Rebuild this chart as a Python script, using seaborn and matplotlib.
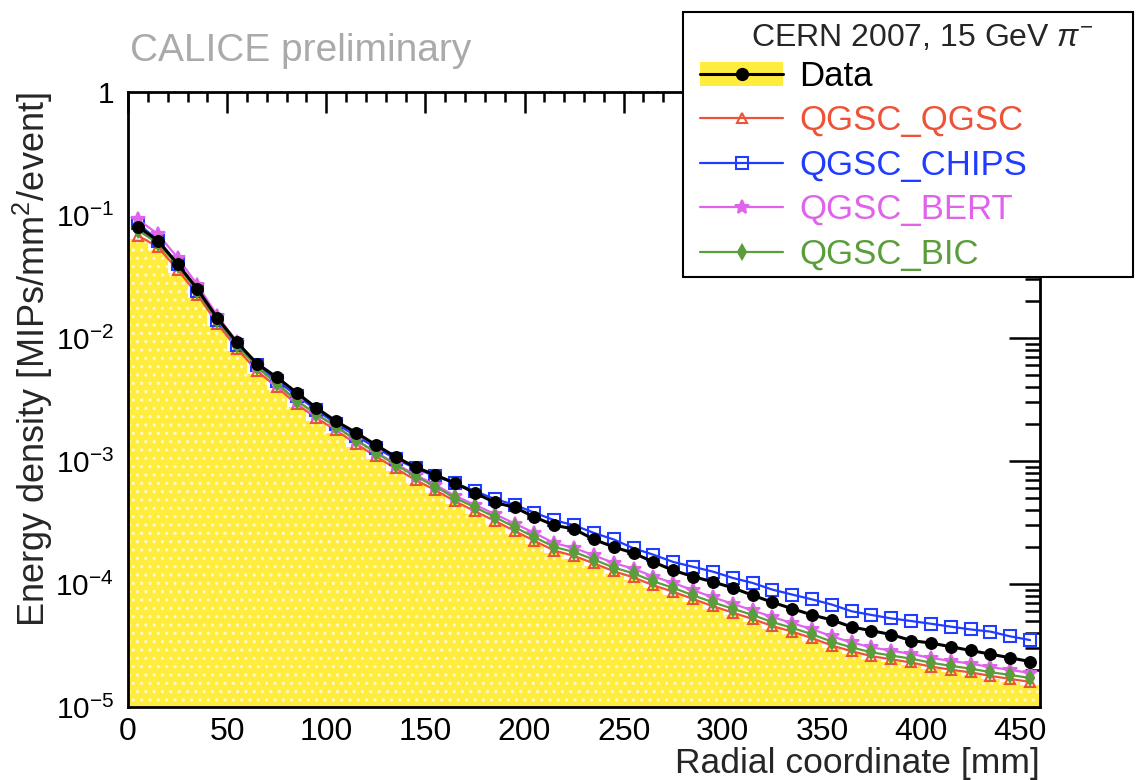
import numpy as np
import matplotlib
matplotlib.use("Agg")
import matplotlib.pyplot as plt
from matplotlib.lines import Line2D
from matplotlib.patches import Patch, Rectangle
from matplotlib.ticker import FixedLocator, FixedFormatter, LogLocator, MultipleLocator, NullFormatter
import seaborn as sns

# Radial bins of 10 mm, values at bin centres
bin_edges = list(range(0, 470, 10))
radius = [5 + 10 * i for i in range(46)]

data = [0.080, 0.062, 0.040, 0.025, 0.0145, 0.0092, 0.0062, 0.0048, 0.0036, 0.0027,
        0.0021, 0.0017, 0.00135, 0.00108, 0.00089, 0.00077, 0.00066, 0.00055, 0.00046, 0.00042,
        0.00035, 0.00030, 0.00028, 0.00023, 0.00020, 0.000178, 0.000151, 0.000129, 0.000115, 0.000104,
        0.000093, 0.000081, 0.000071, 0.000063, 0.000056, 0.000051, 0.0000447, 0.0000417, 0.0000388, 0.0000347,
        0.0000331, 0.0000309, 0.0000288, 0.0000269, 0.0000251, 0.0000234]

data_band = [0.064, 0.052, 0.034, 0.0213, 0.0124, 0.0078, 0.0051, 0.0038, 0.00275, 0.00212,
             0.00168, 0.00131, 0.00103, 0.00083, 0.00066, 0.00055, 0.00045, 0.00037, 0.00031, 0.000256,
             0.000213, 0.000178, 0.00016, 0.00014, 0.000121, 0.000107, 0.0000925, 0.000082, 0.0000717, 0.0000627,
             0.0000556, 0.0000494, 0.0000432, 0.000039, 0.0000345, 0.00003, 0.000027, 0.0000246, 0.0000232, 0.0000218,
             0.0000202, 0.0000191, 0.0000181, 0.000017, 0.0000161, 0.0000152]

qgsc_qgsc = [0.068, 0.055, 0.036, 0.0225, 0.0131, 0.0082, 0.0054, 0.0040, 0.0029, 0.00224,
             0.00177, 0.00138, 0.00109, 0.00087, 0.00070, 0.00058, 0.00047, 0.00039, 0.000326, 0.00027,
             0.000224, 0.000187, 0.000169, 0.000147, 0.000127, 0.000113, 0.0000975, 0.0000865, 0.0000755, 0.000066,
             0.0000585, 0.000052, 0.0000455, 0.000041, 0.0000363, 0.0000316, 0.0000284, 0.0000259, 0.0000244, 0.000023,
             0.0000213, 0.0000201, 0.0000191, 0.0000179, 0.0000169, 0.000016]

qgsc_chips = [0.086, 0.062, 0.040, 0.024, 0.014, 0.0088, 0.0060, 0.0045, 0.0034, 0.0026,
              0.0020, 0.0016, 0.00128, 0.00104, 0.00087, 0.00075, 0.00066, 0.00057, 0.00049, 0.00044,
              0.00038, 0.00033, 0.00030, 0.00026, 0.00023, 0.000195, 0.000173, 0.000151, 0.000138, 0.000126,
              0.000112, 0.000102, 0.000090, 0.000082, 0.000075, 0.000068, 0.000060, 0.000056, 0.0000525, 0.000050,
              0.0000475, 0.000045, 0.0000427, 0.000041, 0.0000375, 0.000035]

qgsc_bert = [0.092, 0.070, 0.045, 0.027, 0.0152, 0.0092, 0.0059, 0.0042, 0.0031, 0.0024,
             0.0019, 0.00148, 0.00118, 0.00095, 0.00077, 0.00064, 0.00052, 0.00044, 0.00037, 0.00031,
             0.00026, 0.000215, 0.000196, 0.000171, 0.000148, 0.000133, 0.000115, 0.000102, 0.000089, 0.000078,
             0.000069, 0.000061, 0.000054, 0.000048, 0.000043, 0.0000375, 0.0000335, 0.0000305, 0.0000287, 0.000027,
             0.000025, 0.0000237, 0.0000225, 0.0000211, 0.00002, 0.0000189]

qgsc_bic = [0.075, 0.059, 0.039, 0.024, 0.0140, 0.0088, 0.0058, 0.0043, 0.0031, 0.0024,
            0.0019, 0.00148, 0.00117, 0.00093, 0.00075, 0.00062, 0.00050, 0.00042, 0.00035, 0.00029,
            0.00024, 0.00020, 0.000182, 0.000158, 0.000136, 0.000122, 0.000105, 0.000093, 0.000081, 0.000071,
            0.000063, 0.000056, 0.000049, 0.000044, 0.000039, 0.000034, 0.0000305, 0.0000278, 0.0000262, 0.0000247,
            0.0000229, 0.0000216, 0.0000205, 0.0000192, 0.0000182, 0.0000172]

models = ["QGSC_QGSC", "QGSC_CHIPS", "QGSC_BERT", "QGSC_BIC"]
model_values = [qgsc_qgsc, qgsc_chips, qgsc_bert, qgsc_bic]
model_colors = ["#ee5238", "#1f3cff", "#e063ec", "#5a9e3c"]
model_markers = ["^", "s", "*", "d"]
model_msize = [6.5, 8, 10, 7]
model_filled = [False, False, True, True]

sns.set_theme(style="white")
plt.rcParams["font.family"] = ["Liberation Sans", "DejaVu Sans"]
plt.rcParams["mathtext.fontset"] = "custom"
plt.rcParams["mathtext.rm"] = "Liberation Sans"
plt.rcParams["mathtext.it"] = "Liberation Sans:italic"
plt.rcParams["hatch.linewidth"] = 1.2

W, H = 1137, 780
fig = plt.figure(figsize=(W / 100, H / 100), dpi=100)
ax = fig.add_axes([0.1126, 0.0936, 0.8021, 0.7885])

# Data histogram, filled
band_ext = data_band + [data_band[-1]]
ax.fill_between(bin_edges, band_ext, 1e-7, step="post", facecolor="#ffec3c",
                edgecolor="#fff9c8", hatch="..", linewidth=0, zorder=1)

for name, vals, col, mk, ms, filled in zip(models, model_values, model_colors,
                                            model_markers, model_msize, model_filled):
    sns.lineplot(x=radius, y=vals, ax=ax, color=col, linewidth=1.6, marker=mk,
                 markersize=ms, markeredgecolor=col,
                 markerfacecolor=(col if filled else "none"),
                 markeredgewidth=1.5, zorder=3, legend=False)

sns.lineplot(x=radius, y=data, ax=ax, color="black", linewidth=2.2, marker="o",
             markersize=8.5, markeredgecolor="black", markerfacecolor="black",
             zorder=4, legend=False)

ax.set_yscale("log")
ax.set_xlim(0, 460)
ax.set_ylim(1e-5, 1)

major_y = [1e-5, 1e-4, 1e-3, 1e-2, 1e-1, 1]
major_y_labels = [r"$10^{-5}$", r"$10^{-4}$", r"$10^{-3}$", r"$10^{-2}$", r"$10^{-1}$", "1"]
ax.yaxis.set_major_locator(FixedLocator(major_y))
ax.yaxis.set_major_formatter(FixedFormatter(major_y_labels))
ax.yaxis.set_minor_locator(LogLocator(base=10, subs=np.arange(2, 10), numticks=20))
ax.yaxis.set_minor_formatter(NullFormatter())
ax.xaxis.set_major_locator(MultipleLocator(50))
ax.xaxis.set_minor_locator(MultipleLocator(10))

for side in ax.spines.values():
    side.set_linewidth(2)
    side.set_color("black")

ax.tick_params(axis="both", which="both", direction="in", top=True, right=True,
               colors="black", width=1.8)
ax.tick_params(axis="y", which="major", length=22, labelsize=21.5, pad=10)
ax.tick_params(axis="y", which="minor", length=11)
ax.tick_params(axis="x", which="major", length=15, labelsize=23, pad=7)
ax.tick_params(axis="x", which="minor", length=7.5)
ax.grid(False)

ax.set_xlabel("Radial coordinate [mm]", fontsize=25.5, loc="right", labelpad=0)
ax.set_ylabel("Energy density [MIPs/mm$^{2}$/event]", fontsize=26, loc="top", labelpad=0)

fig.text(0.114, 0.935, "CALICE preliminary", fontsize=28, color="#aaaaaa",
         ha="left", va="center")

# Legend box with title
fig.patches.append(Rectangle((683 / W, 1 - 277 / H), 450 / W, 265 / H,
                             transform=fig.transFigure, facecolor="white",
                             edgecolor="black", linewidth=1.5, zorder=4))
fig.text(922 / W, 1 - 38 / H, "CERN 2007, 15 GeV $\\pi^{-}$", fontsize=23,
         ha="center", va="center", zorder=6)

handles = [(Patch(facecolor="#ffec3c", edgecolor="none"),
            Line2D([], [], color="black", lw=2.2, marker="o", markersize=8.5))]
for col, mk, ms, filled in zip(model_colors, model_markers, model_msize, model_filled):
    handles.append(Line2D([], [], color=col, lw=1.6, marker=mk, markersize=ms,
                          markeredgecolor=col, markeredgewidth=1.5,
                          markerfacecolor=(col if filled else "none")))
labels = ["Data"] + models
leg = fig.legend(handles, labels, loc="upper left",
                 bbox_to_anchor=(700 / W, 1 - 60 / H),
                 fontsize=25, frameon=False,
                 handlelength=2.4, handletextpad=0.45, labelspacing=0.33,
                 borderpad=0.0, borderaxespad=0.0)
leg.set_zorder(6)
for txt, col in zip(leg.get_texts(), ["black"] + model_colors):
    txt.set_color(col)

fig.savefig("out.png", dpi=100)
